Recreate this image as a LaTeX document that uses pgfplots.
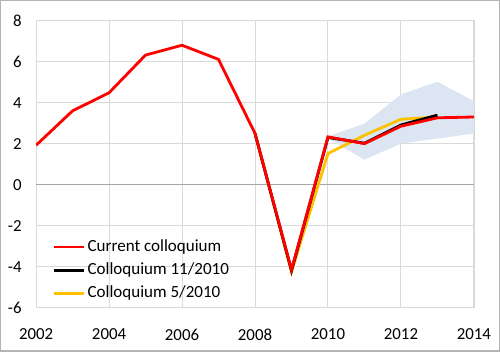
\documentclass[border=0pt]{standalone}
\usepackage{fontspec}
\setmainfont{Carlito}
\usepackage{pgfplots}
\pgfplotsset{compat=1.18}
\usetikzlibrary{calc}
\definecolor{bandblue}{RGB}{220,230,242}
\definecolor{gridgray}{RGB}{217,217,217}
\definecolor{zerogray}{RGB}{166,166,166}
\definecolor{gold}{RGB}{255,192,0}
\definecolor{framegray}{RGB}{180,180,180}
\begin{document}
\begin{tikzpicture}
\begin{axis}[
  scale only axis, width=218.5pt, height=143.2pt,
  xmin=2002, xmax=2014, ymin=-6, ymax=8,
  xtick={2002,2004,...,2014}, ytick={-6,-4,...,8},
  grid=major, major grid style={gridgray, line width=0.5pt},
  axis line style={gridgray},
  major tick length=0pt,
  font=\fontsize{8.4}{10}\selectfont,
  /pgf/number format/1000 sep={},
  /pgf/number format/assume math mode=true,
  xticklabel style={inner sep=0pt, anchor=north, yshift=-10.5pt},
  yticklabel style={inner sep=0pt, anchor=east, xshift=-7pt},
  legend style={draw=none, fill=none, at={(0.022,0.0)}, anchor=south west,
    row sep=1.5pt, font=\fontsize{8.5}{10}\selectfont,
    nodes={inner sep=1.3pt}},
  legend cell align=left,
  reverse legend,
  legend image code/.code={\draw[#1] (0pt,0pt) -- (15pt,0pt);},
]
% forecast range
\addplot[fill=bandblue, draw=none, forget plot] coordinates {
  (2010,2.35) (2011,2.98) (2012,4.4) (2013,5.02) (2014,4.07)
  (2014,2.49) (2013,2.25) (2012,2.0) (2011,1.22) (2010,2.25)
} -- cycle;
\addplot[zerogray, line width=0.6pt, forget plot] coordinates {(2002,0) (2014,0)};
\addplot[gold, line width=1.4pt] coordinates {
  (2008,2.5) (2009,-4.25) (2010,1.52) (2011,2.41) (2012,3.19) (2013,3.3)
};
\addlegendentry{Colloquium 5/2010}
\addplot[black, line width=1.4pt] coordinates {
  (2008,2.5) (2009,-4.2) (2010,2.3) (2011,2.02) (2012,2.91) (2013,3.39)
};
\addlegendentry{Colloquium 11/2010}
\addplot[red, line width=1.4pt] coordinates {
  (2002,1.92) (2003,3.6) (2004,4.48) (2005,6.32) (2006,6.8) (2007,6.11)
  (2008,2.5) (2009,-4.15) (2010,2.33) (2011,2.0) (2012,2.85) (2013,3.26)
  (2014,3.3)
};
\addlegendentry{Current colloquium}
\end{axis}
\draw[framegray, line width=0.6pt]
  ($(current axis.south west)+(-17.7pt,-21.7pt)$) rectangle
  ($(current axis.north east)+(12.7pt,10pt)$);
\end{tikzpicture}
\end{document}
